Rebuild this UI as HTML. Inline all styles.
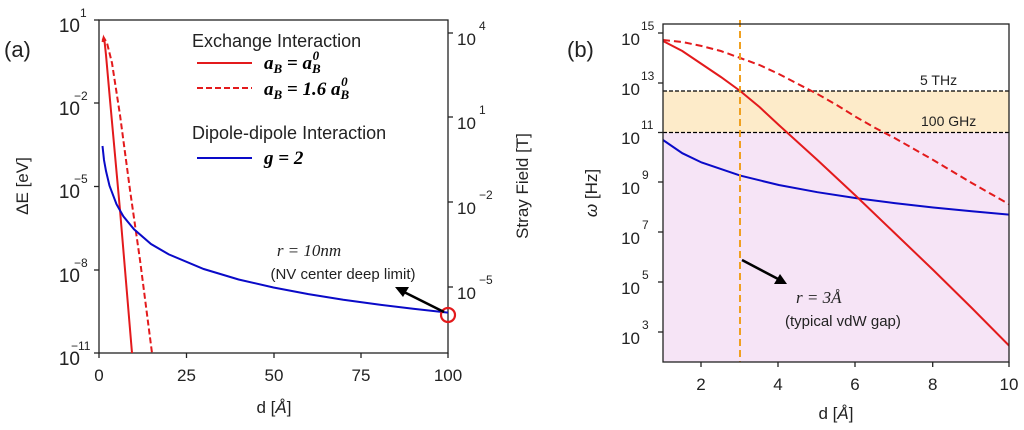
<!DOCTYPE html>
<html><head><meta charset="utf-8"><style>
html,body{margin:0;padding:0;background:#fff;}
svg{display:block;font-family:"Liberation Sans",sans-serif;}
.t{font-size:17px;fill:#222;}
.s{font-size:12px;fill:#222;}
.m{font-family:"Liberation Serif",serif;font-weight:bold;font-style:italic;font-size:19px;fill:#000;}
</style></head><body>
<svg width="1024" height="430" viewBox="0 0 1024 430" xmlns="http://www.w3.org/2000/svg">
<!-- Panel a -->
<text x="4" y="57" font-size="22" fill="#222">(a)</text>
<g stroke="#222" stroke-width="1.3" fill="none">
<rect x="99" y="20" width="349" height="333"/>
<line x1="99" y1="20" x2="94" y2="20"/><line x1="99" y1="103" x2="94" y2="103"/><line x1="99" y1="186.5" x2="94" y2="186.5"/><line x1="99" y1="270" x2="94" y2="270"/><line x1="99" y1="353" x2="94" y2="353"/>
<line x1="448" y1="33" x2="453" y2="33"/><line x1="448" y1="117" x2="453" y2="117"/><line x1="448" y1="202" x2="453" y2="202"/><line x1="448" y1="287" x2="453" y2="287"/>
<line x1="99" y1="353" x2="99" y2="358"/><line x1="186.5" y1="353" x2="186.5" y2="358"/><line x1="274" y1="353" x2="274" y2="358"/><line x1="361" y1="353" x2="361" y2="358"/><line x1="448" y1="353" x2="448" y2="358"/>
</g>
<g class="t" text-anchor="end">
<text x="80" y="32" font-size="19">10</text><text x="80" y="115" font-size="19">10</text><text x="80" y="198" font-size="19">10</text><text x="80" y="282" font-size="19">10</text><text x="80" y="365" font-size="19">10</text>
</g>
<g class="s" font-size="13">
<text x="80" y="17">1</text><text x="74" y="100">−2</text><text x="74" y="183">−5</text><text x="74" y="267">−8</text><text x="71" y="350">−11</text>
</g>
<g class="t" font-size="19">
<text x="457" y="45">10</text><text x="457" y="129">10</text><text x="457" y="214">10</text><text x="457" y="299">10</text>
</g>
<g class="s" font-size="13">
<text x="479" y="30">4</text><text x="479" y="114">1</text><text x="479" y="199">−2</text><text x="479" y="284">−5</text>
</g>
<g class="t" font-size="19" text-anchor="middle">
<text x="99" y="381">0</text><text x="186.5" y="381">25</text><text x="274" y="381">50</text><text x="361" y="381">75</text><text x="448" y="381">100</text>
<text x="274" y="413">d [<tspan font-style="italic">Å</tspan>]</text>
<text transform="translate(28,186) rotate(-90)">ΔE [eV]</text>
<text transform="translate(528,186) rotate(-90)">Stray Field [T]</text>
</g>
<!-- legend -->
<text x="192" y="47" font-size="18" fill="#222">Exchange Interaction</text>
<line x1="197" y1="63" x2="252" y2="63" stroke="#e31a1c" stroke-width="2"/>
<line x1="197" y1="88" x2="252" y2="88" stroke="#e31a1c" stroke-width="2" stroke-dasharray="6,3"/>
<text x="264" y="69" class="m">a<tspan font-size="13" dy="4">B</tspan><tspan dy="-4"> = a</tspan><tspan font-size="13" dy="4">B</tspan><tspan font-size="13" dx="-8" dy="-13">0</tspan></text>
<text x="264" y="95" class="m">a<tspan font-size="13" dy="4">B</tspan><tspan dy="-4"> = 1.6 a</tspan><tspan font-size="13" dy="4">B</tspan><tspan font-size="13" dx="-8" dy="-13">0</tspan></text>
<text x="192" y="139" font-size="18" fill="#222">Dipole-dipole Interaction</text>
<line x1="197" y1="158" x2="252" y2="158" stroke="#0a0ac8" stroke-width="2"/>
<text x="264" y="164" class="m">g = 2</text>
<!-- curves a -->
<svg x="99" y="20" width="349" height="333" overflow="hidden">
<polyline transform="translate(-99,-20)" fill="none" stroke="#e31a1c" stroke-width="2" points="102.5,42 103.5,38 104.5,41 106,55 110,100 120,210 132,353 134,375"/>
<polyline transform="translate(-99,-20)" fill="none" stroke="#e31a1c" stroke-width="2" stroke-dasharray="6,3" points="102.5,40 104,38 107,43 112,63 120,115 130,190 140,260 152,353 154,370"/>
<polyline transform="translate(-99,-20)" fill="none" stroke="#0a0ac8" stroke-width="2" points="102.5,146 104,160 106,171 109.5,185.7 116.5,204.2 123.4,216.4 134,229.3 151,244 168.8,254.4 203.7,269 238.6,279.5 273.5,287.5 308.4,294.1 343.3,299.7 378.2,304.5 413.1,308.8 448,312.6"/>
</svg>
<circle cx="448" cy="315" r="7" fill="none" stroke="#e31a1c" stroke-width="2.2"/>
<line x1="444" y1="312" x2="404" y2="292" stroke="#000" stroke-width="2.5"/>
<polygon points="395,287 409,287 403,297" fill="#000"/>
<text x="309" y="256" text-anchor="middle" font-family="Liberation Serif,serif" font-style="italic" font-size="17" fill="#222">r = 10nm</text>
<text x="343" y="279" text-anchor="middle" font-size="15" fill="#222">(NV center deep limit)</text>

<!-- Panel b -->
<text x="567" y="57" font-size="22" fill="#222">(b)</text>
<rect x="663" y="132.5" width="346" height="229.5" fill="#f6e4f6"/>
<rect x="663" y="91" width="346" height="41.5" fill="#fdebc9"/>
<line x1="663" y1="91" x2="1009" y2="91" stroke="#000" stroke-width="1.3" stroke-dasharray="4,2"/>
<line x1="663" y1="132.5" x2="1009" y2="132.5" stroke="#000" stroke-width="1.3" stroke-dasharray="4,2"/>
<text x="920" y="85" font-size="14" fill="#222">5 THz</text>
<text x="921" y="126" font-size="14" fill="#222">100 GHz</text>
<svg x="663" y="24" width="346" height="338" overflow="hidden">
<g transform="translate(-663,-24)" fill="none" stroke-width="2">
<polyline stroke="#0a0ac8" points="663,140 682.3,153.2 701.6,162.5 740.2,175.6 778.8,185 817.4,192.2 856,198.1 894.6,203.1 933.2,207.5 971.8,211.3 1010.4,214.7"/>
<polyline stroke="#e31a1c" points="663,41 682.3,51 701.6,64 720.9,77 740.2,91 759.5,107 778.8,125 817.4,160 856,196 894.6,233 933.2,270 971.8,308 1010.4,347"/>
<polyline stroke="#e31a1c" stroke-dasharray="7,4" points="663,40 682.3,42 701.6,46 720.9,51 740.2,58 759.5,65 778.8,74 798,84 817.4,94 836.7,105 856,117 875.3,128 894.6,138 933.2,160 971.8,183 1010.4,205"/>
</g>
</svg>
<line x1="740" y1="20" x2="740" y2="362" stroke="#f0a020" stroke-width="2" stroke-dasharray="7,4"/>
<g stroke="#222" stroke-width="1.3" fill="none">
<rect x="663" y="24" width="346" height="338"/>
<line x1="663" y1="33" x2="658" y2="33"/><line x1="663" y1="83" x2="658" y2="83"/><line x1="663" y1="132.5" x2="658" y2="132.5"/><line x1="663" y1="182" x2="658" y2="182"/><line x1="663" y1="232" x2="658" y2="232"/><line x1="663" y1="282" x2="658" y2="282"/><line x1="663" y1="332" x2="658" y2="332"/>
<line x1="701" y1="362" x2="701" y2="367"/><line x1="778" y1="362" x2="778" y2="367"/><line x1="855" y1="362" x2="855" y2="367"/><line x1="932.7" y1="362" x2="932.7" y2="367"/><line x1="1009" y1="362" x2="1009" y2="367"/>
</g>
<g class="t" font-size="19" text-anchor="end">
<text x="640" y="45">10</text><text x="640" y="95">10</text><text x="640" y="144">10</text><text x="640" y="194">10</text><text x="640" y="244">10</text><text x="640" y="294">10</text><text x="640" y="344">10</text>
</g>
<g class="s" font-size="13">
<text x="641" y="30">15</text><text x="641" y="80">13</text><text x="641" y="129">11</text><text x="642" y="179">9</text><text x="642" y="229">7</text><text x="642" y="279">5</text><text x="642" y="329">3</text>
</g>
<g class="t" font-size="19" text-anchor="middle">
<text x="701" y="390">2</text><text x="778" y="390">4</text><text x="855" y="390">6</text><text x="932.7" y="390">8</text><text x="1009" y="390">10</text>
<text x="836" y="419">d [<tspan font-style="italic">Å</tspan>]</text>
<text transform="translate(597,193) rotate(-90)"><tspan font-style="italic">ω</tspan> [Hz]</text>
</g>
<line x1="742" y1="260" x2="780" y2="280" stroke="#000" stroke-width="2.5"/>
<polygon points="787,284 774,284 780,274" fill="#000"/>
<text x="796" y="303" font-family="Liberation Serif,serif" font-style="italic" font-size="17" fill="#222">r = 3Å</text>
<text x="785" y="326" font-size="15" fill="#222">(typical vdW gap)</text>
</svg>
</body></html>
